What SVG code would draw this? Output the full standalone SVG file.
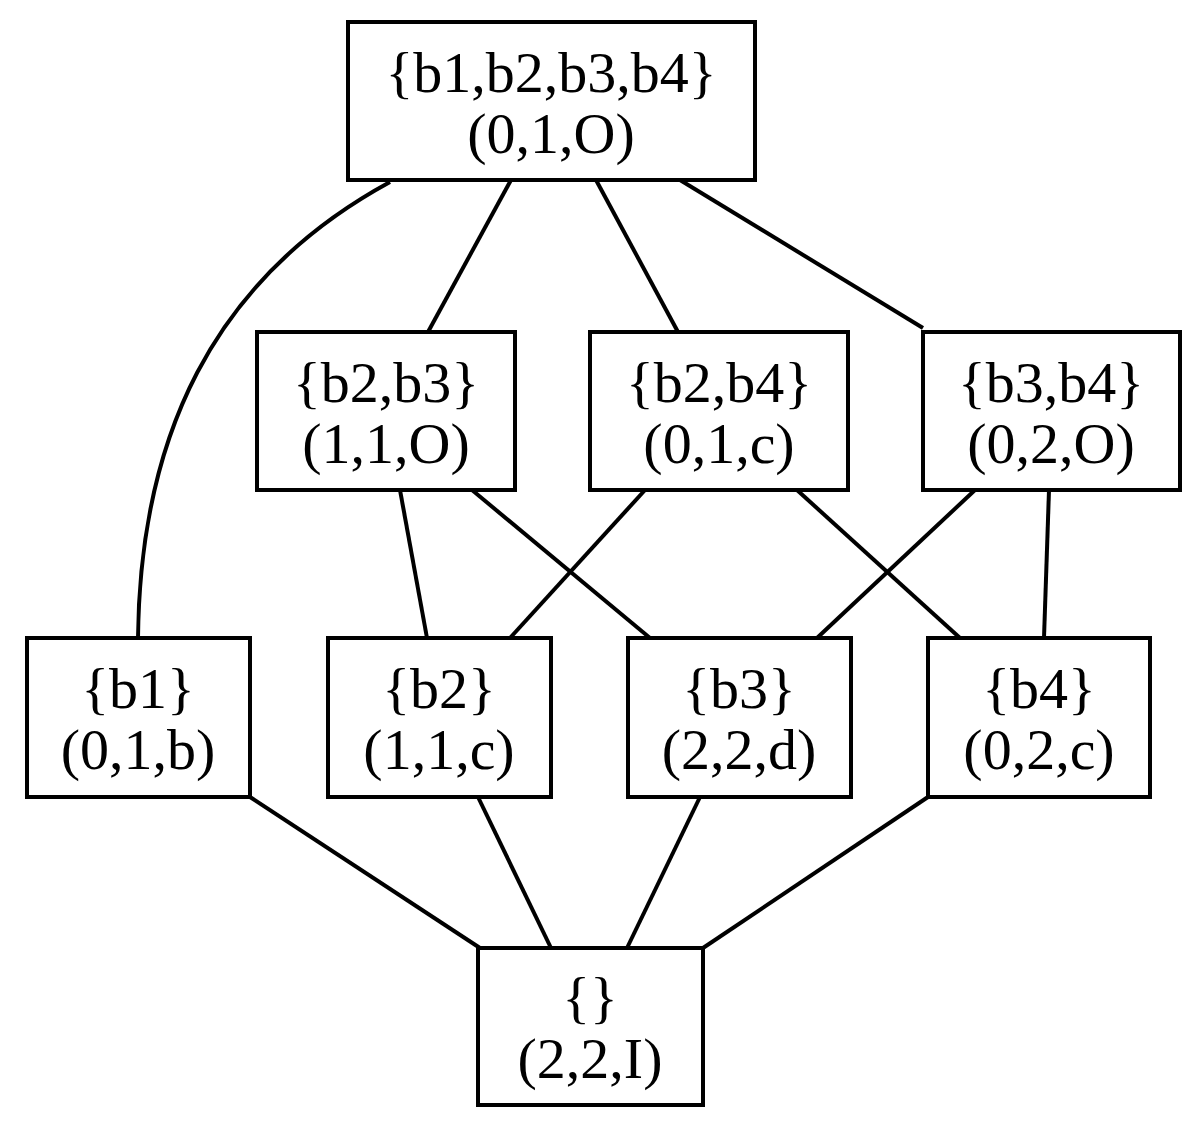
<svg xmlns="http://www.w3.org/2000/svg" width="1201" height="1138" viewBox="0 0 1201 1138">
<style>
rect{fill:#fff;stroke:#000;stroke-width:4}
text{font-family:"Liberation Serif",serif;font-size:58px;text-anchor:middle;fill:#000}
#edges path,#edges line{stroke:#000;stroke-width:4;fill:none}
</style>
<rect x="0" y="0" width="1201" height="1138" style="stroke:none"/>
<g id="edges">
<path d="M390,182 C210,280 140,440 138,638"/>
<line x1="511" y1="180" x2="428" y2="332"/>
<line x1="596" y1="180" x2="678" y2="332"/>
<line x1="680" y1="180" x2="923" y2="328"/>
<line x1="400" y1="490" x2="427" y2="638"/>
<line x1="472" y1="490" x2="650" y2="638"/>
<line x1="645" y1="490" x2="510" y2="638"/>
<line x1="797" y1="490" x2="960" y2="638"/>
<line x1="975" y1="490" x2="817" y2="638"/>
<line x1="1049" y1="490" x2="1044" y2="638"/>
<line x1="250" y1="797" x2="480" y2="948"/>
<line x1="478" y1="797" x2="551" y2="948"/>
<line x1="700" y1="797" x2="627" y2="948"/>
<line x1="928" y1="797" x2="703" y2="948"/>
</g>
<g id="top"><rect x="348" y="22" width="407" height="158"/><text x="551" y="92">{b1,b2,b3,b4}</text><text x="551" y="153">(0,1,O)</text></g>
<g id="b23"><rect x="257" y="332" width="258" height="158"/><text x="386" y="402">{b2,b3}</text><text x="386" y="463">(1,1,O)</text></g>
<g id="b24"><rect x="590" y="332" width="258" height="158"/><text x="719" y="402">{b2,b4}</text><text x="719" y="463">(0,1,c)</text></g>
<g id="b34"><rect x="923" y="332" width="257" height="158"/><text x="1051" y="402">{b3,b4}</text><text x="1051" y="463">(0,2,O)</text></g>
<g id="b1"><rect x="27" y="638" width="223" height="159"/><text x="138" y="708">{b1}</text><text x="138" y="769">(0,1,b)</text></g>
<g id="b2"><rect x="328" y="638" width="223" height="159"/><text x="439" y="708">{b2}</text><text x="439" y="769">(1,1,c)</text></g>
<g id="b3"><rect x="628" y="638" width="223" height="159"/><text x="739" y="708">{b3}</text><text x="739" y="769">(2,2,d)</text></g>
<g id="b4"><rect x="928" y="638" width="222" height="159"/><text x="1039" y="708">{b4}</text><text x="1039" y="769">(0,2,c)</text></g>
<g id="empty"><rect x="478" y="948" width="225" height="157"/><text x="590" y="1017">{}</text><text x="590" y="1078">(2,2,I)</text></g>
</svg>
